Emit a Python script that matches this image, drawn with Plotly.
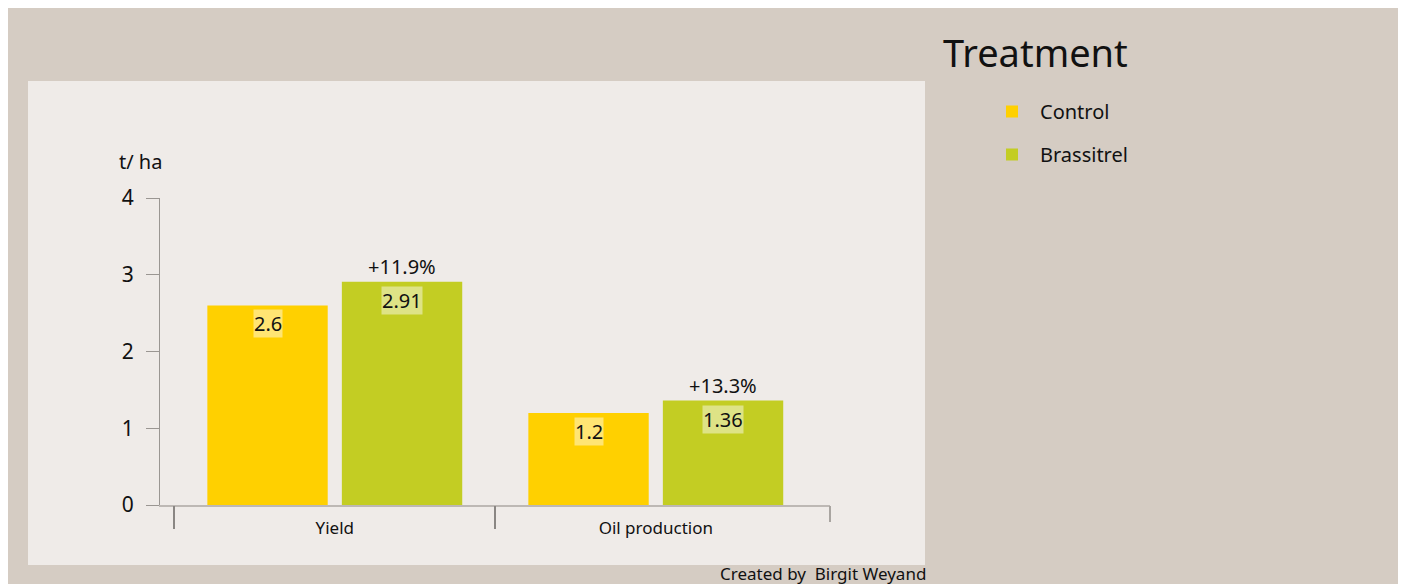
import plotly.graph_objects as go

categories = ["Yield", "Oil production"]
series_names = ["Control", "Brassitrel"]
control_vals = [2.6, 1.2]
brassitrel_vals = [2.91, 1.36]
y_ticks = [0, 1, 2, 3, 4]
y_unit = "t/ ha"
legend_title = "Treatment"
credit = "Created by  Birgit Weyand"

colors = {"Control": "#ffd000", "Brassitrel": "#c3cd23"}
FONT = "Noto Sans"
BAR_W = 0.375
OFFS = {"Control": -0.397, "Brassitrel": 0.022}
X_RANGE = [-0.5445, 1.5427]
boundaries = [i - 0.5 for i in range(len(categories))]

# figure-pixel helpers (plot area: x 152..822, y 190..497 in figure pixels)
def px(xpix):
    return (xpix - 152) / 670

def py(ypix):
    return 1 - (ypix - 190) / 307

fig = go.Figure()
for name, vals in [("Control", control_vals), ("Brassitrel", brassitrel_vals)]:
    fig.add_trace(go.Bar(
        name=name, x=categories, y=vals, width=BAR_W, offset=OFFS[name],
        marker=dict(color=colors[name], line=dict(width=0)),
        legendgroup=name, hoverinfo="x+y+name",
    ))
# empty trace so the boundary-tick axis is rendered
fig.add_trace(go.Scatter(x=[], y=[], xaxis="x2", yaxis="y", showlegend=False,
                         hoverinfo="skip"))

annotations = []
for name, vals in [("Control", control_vals), ("Brassitrel", brassitrel_vals)]:
    for i, v in enumerate(vals):
        annotations.append(dict(
            x=i + OFFS[name] + BAR_W / 2, y=v, xref="x", yref="y",
            text=f"{v:g}", showarrow=False, yanchor="top", yshift=-4,
            bgcolor="rgba(255,255,255,0.45)", borderpad=0,
            font=dict(family=FONT, size=20, color="#111"),
        ))
for i, (c, b) in enumerate(zip(control_vals, brassitrel_vals)):
    pct = (b / c - 1) * 100
    annotations.append(dict(
        x=i + OFFS["Brassitrel"] + BAR_W / 2, y=b, xref="x", yref="y",
        text=f"+{pct:.1f}%", showarrow=False, yanchor="bottom", yshift=0,
        font=dict(family=FONT, size=20, color="#111"),
    ))
annotations.append(dict(
    x=px(132), y=py(153), xref="paper", yref="paper", text=y_unit, showarrow=False,
    xanchor="center", yanchor="middle", font=dict(family=FONT, size=20, color="#111"),
))
annotations.append(dict(
    x=px(920), y=py(565), xref="paper", yref="paper",
    text=credit, showarrow=False, xanchor="right", yanchor="middle",
    font=dict(family=FONT, size=17, color="#111"),
))
annotations.append(dict(
    x=px(933), y=py(44), xref="paper", yref="paper",
    text=legend_title, showarrow=False, xanchor="left", yanchor="middle",
    font=dict(family=FONT, size=38, color="#111"),
))

shapes = [dict(
    type="rect", xref="paper", yref="paper", layer="below",
    x0=px(20), x1=px(917), y0=py(557), y1=py(73),
    fillcolor="#efebe8", line=dict(width=0),
)]

fig.update_layout(
    width=1394, height=576,
    margin=dict(l=152, r=572, t=190, b=79),
    paper_bgcolor="#d5ccc3", plot_bgcolor="rgba(0,0,0,0)",
    barmode="group",
    font=dict(family=FONT, color="#111"),
    shapes=shapes, annotations=annotations,
    showlegend=True,
    legend=dict(
        font=dict(family=FONT, size=20, color="#111"),
        x=px(976), y=py(84), xanchor="left", yanchor="top",
        bgcolor="rgba(0,0,0,0)", tracegroupgap=14, traceorder="grouped",
        itemwidth=46,
    ),
    xaxis=dict(
        type="category", range=X_RANGE, showline=True, linecolor="#bdb8b4", linewidth=2,
        ticks="", showgrid=False, zeroline=False, ticklabelstandoff=7,
        tickfont=dict(family=FONT, size=17, color="#111"),
    ),
    xaxis2=dict(
        overlaying="x", anchor="y", range=X_RANGE, tickmode="array", tickvals=boundaries,
        ticks="outside", ticklen=23, tickcolor="#8a8683", tickwidth=1.5,
        showticklabels=False, showline=False, showgrid=False, zeroline=False,
        minor=dict(tickmode="array", tickvals=[X_RANGE[1]], ticks="outside", ticklen=16,
                   tickcolor="#a9a5a1", tickwidth=2, showgrid=False),
    ),
    yaxis=dict(
        range=[0, 4], tickmode="array", tickvals=y_ticks, ticks="outside", ticklen=13,
        tickcolor="#9a9692", showline=True, linecolor="#9a9692", linewidth=1,
        showgrid=False, zeroline=False, ticklabelstandoff=8,
        tickfont=dict(family=FONT, size=21, color="#111"),
    ),
)
fig.write_html("out.html")
